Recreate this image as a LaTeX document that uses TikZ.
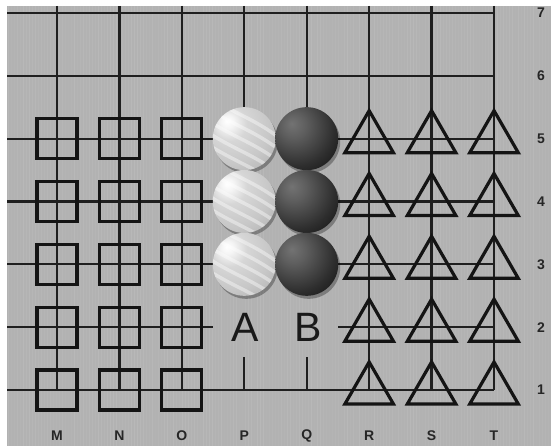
\documentclass[tikz,border=0pt]{standalone}
\usepackage{fontspec}
\setmainfont{Liberation Sans}
\usetikzlibrary{shapes.geometric}
\pgfdeclareradialshading{whitestone}{\pgfpoint{-14bp}{14bp}}{%
  color(0bp)=(white);
  color(5bp)=(white!96!black);
  color(14bp)=(black!16);
  color(30bp)=(black!22);
  color(48bp)=(black!32);
  color(64bp)=(black!48);
  color(100bp)=(black!48)}
\pgfdeclareradialshading{blackstone}{\pgfpoint{-12bp}{12bp}}{%
  color(0bp)=(black!55);
  color(10bp)=(black!63);
  color(30bp)=(black!82);
  color(48bp)=(black!96);
  color(64bp)=(black);
  color(100bp)=(black)}
\definecolor{board}{RGB}{178,178,178}
\begin{document}
\begin{tikzpicture}[x=1pt,y=-1pt,
  grid/.style={line width=2.2pt, draw=black!88},
  sqmark/.style={rectangle, draw=black!92, line width=3.2pt, minimum size=40pt, inner sep=0pt},
  trimark/.style={regular polygon, regular polygon sides=3, draw=black!92, line width=3.2pt, minimum size=56pt, inner sep=0pt},
  stone/.style={circle, minimum size=63pt, inner sep=0pt},
  wstone/.style={stone, shading=whitestone},
  bstone/.style={stone, shading=blackstone},
  shadow/.style={circle, minimum size=63pt, inner sep=0pt, fill=black, fill opacity=0.3},
  coordlabel/.style={font=\bfseries\fontsize{14}{14}\selectfont, text=black!85, inner sep=0pt},
  biglabel/.style={font=\fontsize{41}{41}\selectfont, text=black!90, inner sep=0pt, anchor=base}
]
\useasboundingbox (0,0) rectangle (551,446);
\fill[white] (0,0) rectangle (551,446);
\fill[board] (7,6) rectangle (551,446);
% faint vertical texture
\pgfmathsetseed{7}
\foreach \k in {0,...,180}{
  \pgfmathsetmacro{\op}{0.02+0.07*rnd}
  \pgfmathsetmacro{\xx}{8+3*\k}
  \draw[white, line width=1pt, opacity=\op] (\xx,6) -- (\xx,446);
}
% grid coordinates
\foreach \c [count=\i from 0] in {M,N,O,P,Q,R,S,T}{
  \foreach \r in {1,...,7}{
    \coordinate (\c\r) at ({57+62.43*\i},{13+62.83*(7-\r)});
  }
  \coordinate (\c top) at ({57+62.43*\i},6);
}
\foreach \r in {1,...,7}{
  \coordinate (L\r) at (7,{13+62.83*(7-\r)});
}
\coordinate (L2end) at (213,{13+62.83*5});
\coordinate (R2start) at (338,{13+62.83*5});
\coordinate (Pstub) at ({57+62.43*3},357);
\coordinate (Qstub) at ({57+62.43*4},357);
% horizontal lines
\foreach \r in {7,6,1}{ \draw[grid] (L\r) -- (T\r); }
\foreach \r in {5,4,3}{ \draw[grid] (L\r) -- (P\r); \draw[grid] (Q\r) -- (T\r); }
\draw[grid] (L2) -- (L2end);
\draw[grid] (R2start) -- (T2);
% vertical lines
\foreach \c in {M,N,O,R,S,T}{ \draw[grid] (\c top) -- (\c1); }
\foreach \c in {P,Q}{ \draw[grid] (\c top) -- (\c5); }
\draw[grid] (Pstub) -- (P1);
\draw[grid] (Qstub) -- (Q1);
% squares
\foreach \c in {M,N,O}{
  \foreach \r in {1,...,5}{ \node[sqmark] (sq\c\r) at (\c\r) {}; }
}
% triangles
\foreach \c in {R,S,T}{
  \foreach \r in {1,...,5}{ \node[trimark] (tr\c\r) at (\c\r) {}; }
}
% stones
\foreach \r in {5,4,3}{
  \node[shadow] (shw\r) at ([shift={(2,3)}]P\r) {};
  \node[shadow] (shb\r) at ([shift={(2,3)}]Q\r) {};
}
\foreach \r in {5,4,3}{
  \node[wstone] (w\r) at (P\r) {};
  \begin{scope}
    \clip (P\r) circle (31.5);
    \foreach \d in {-30,-18,-6,6,18}{
      \draw[white, line width=3.5pt, opacity=0.4]
        ([shift={(-36,\d-12)}]P\r) .. controls ([shift={(-8,\d+6)}]P\r) and ([shift={(10,\d+10)}]P\r) .. ([shift={(36,\d+30)}]P\r);
    }
  \end{scope}
  \node[bstone] (b\r) at (Q\r) {};
}
% big letters
\node[biglabel] (A) at (245,341.5) {A};
\node[biglabel] (B) at (308,341.5) {B};
% row labels
\foreach \r in {1,...,7}{
  \node[coordlabel] (row\r) at (541,{13+62.83*(7-\r)}) {\r};
}
% column labels
\foreach \c in {M,N,O,P,Q,R,S,T}{
  \path (\c1) ++(0,46) node[coordlabel] (col\c) {\c};
}
\end{tikzpicture}
\end{document}
